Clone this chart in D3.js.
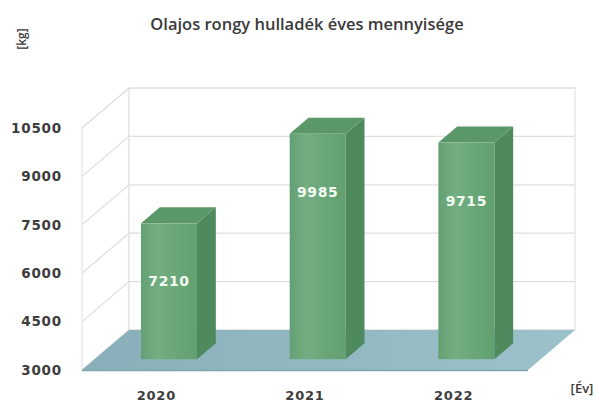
<!DOCTYPE html>
<html><head><meta charset="utf-8">
<script src="https://cdn.jsdelivr.net/npm/d3@7"></script>
<style>html,body{margin:0;padding:0;background:#fff;}svg{display:block;}</style>
</head><body>
<script>
const categories = ["2020", "2021", "2022"];
const values = [7210, 9985, 9715];
const yTicks = [3000, 4500, 6000, 7500, 9000, 10500];
const title = "Olajos rongy hulladék éves mennyisége";
const yUnit = "[kg]";
const xUnit = "[Év]";

const W = 597, H = 406;
const svg = d3.select("body").append("svg").attr("width", W).attr("height", H);
const defs = svg.append("defs");

// front plane scales
const x = d3.scaleBand().domain(categories).range([82, 528]);
const y = d3.scaleLinear().domain([3000, 10500]).range([370, 128]);
const DX = 47, DY = -40; // depth vector
const P = (px, py, t) => [px + DX * t, py + DY * t];
const T0 = 0.27, T1 = 0.67, BW = 56;

const grid = "#dedede";
const yMin = y.domain()[0], yMax = y.domain()[1];
svg.append("polygon").attr("points", [P(82, y(yMin), 0), P(82, y(yMax), 0), P(82, y(yMax), 1), P(82, y(yMin), 1)].join(" "))
  .attr("fill", "#fff").attr("stroke", grid);
svg.append("polygon").attr("points", [P(82, y(yMin), 1), P(82, y(yMax), 1), P(528, y(yMax), 1), P(528, y(yMin), 1)].join(" "))
  .attr("fill", "#fff").attr("stroke", grid);
yTicks.forEach(v => {
  const a = P(82, y(v), 0), b = P(82, y(v), 1), c = P(528, y(v), 1);
  svg.append("polyline").attr("points", [a, b, c].join(" ")).attr("fill", "none").attr("stroke", grid).attr("stroke-width", 1.2);
});
// floor
const fg = defs.append("linearGradient").attr("id", "floor").attr("x1", 0).attr("x2", 1).attr("y1", 0).attr("y2", 0);
fg.append("stop").attr("offset", 0).attr("stop-color", "#88afb9");
fg.append("stop").attr("offset", 1).attr("stop-color", "#9dc1ca");
svg.append("polygon").attr("points", [P(82, y(yMin), 0), P(82, y(yMin), 1), P(528, y(yMin), 1), P(528, y(yMin), 0)].join(" "))
  .attr("fill", "url(#floor)");
svg.append("line").attr("x1", 82).attr("x2", 528).attr("y1", y(yMin) + 0.5).attr("y2", y(yMin) + 0.5).attr("stroke", "#80a5af").attr("stroke-width", 1.5);

// y tick labels
svg.append("g").selectAll("text").data(yTicks).join("text")
  .attr("x", 62).attr("y", d => y(d)).attr("dy", "0.36em").attr("text-anchor", "end")
  .attr("font-family", "DejaVu Sans").attr("font-weight", "bold").attr("font-size", 13.5).attr("letter-spacing", 0.8)
  .attr("fill", "#3d3d3d").text(d => d);

// bars
const bg = defs.append("linearGradient").attr("id", "barf").attr("x1", 0).attr("x2", 1).attr("y1", 0).attr("y2", 0);
[["0", "#64a073"], ["0.3", "#73ae82"], ["0.6", "#6aa779"], ["1", "#62a071"]].forEach(s => bg.append("stop").attr("offset", s[0]).attr("stop-color", s[1]));
const bars = svg.append("g").selectAll("g").data(categories.map((c, i) => ({c, v: values[i]}))).join("g");
bars.each(function(d) {
  const g = d3.select(this);
  const xl = x(d.c) + x.bandwidth() / 2 - BW / 2, xr = xl + BW;
  const yb = y(yMin), yt = y(d.v);
  g.append("polygon").attr("points", [P(xr, yb, T0), P(xr, yt, T0), P(xr, yt, T1), P(xr, yb, T1)].join(" ")).attr("fill", "#4e8a5d");
  g.append("polygon").attr("points", [P(xl, yt, T0), P(xl, yt, T1), P(xr, yt, T1), P(xr, yt, T0)].join(" ")).attr("fill", "#5b9869");
  const f0 = P(xl, yt, T0), f1 = P(xr, yb, T0);
  g.append("rect").attr("x", f0[0]).attr("y", f0[1]).attr("width", f1[0] - f0[0]).attr("height", f1[1] - f0[1]).attr("fill", "url(#barf)");
  g.append("text").attr("x", (f0[0] + f1[0]) / 2).attr("y", f0[1] + 58).attr("dy", "0.36em").attr("text-anchor", "middle")
    .attr("font-family", "DejaVu Sans").attr("font-weight", "bold").attr("font-size", 14).attr("letter-spacing", 0.6)
    .attr("fill", "#f4fbf2").text(d.v);
});

// x labels
svg.append("g").selectAll("text").data(categories).join("text")
  .attr("x", d => x(d) + x.bandwidth() / 2).attr("y", 400).attr("text-anchor", "middle")
  .attr("font-family", "DejaVu Sans").attr("font-weight", "bold").attr("font-size", 13).attr("letter-spacing", 0.8)
  .attr("fill", "#3d3d3d").text(d => d);

// title & units
svg.append("text").attr("x", 307).attr("y", 30).attr("text-anchor", "middle")
  .attr("font-family", "Open Sans").attr("font-weight", 600).attr("font-size", 16.5).attr("fill", "#3a3a3a").text(title);
svg.append("text").attr("transform", "translate(26,39) rotate(-90)").attr("text-anchor", "middle")
  .attr("font-family", "Open Sans").attr("font-weight", 600).attr("font-size", 12).attr("fill", "#3a3a3a").text(yUnit);
svg.append("text").attr("x", 582).attr("y", 393).attr("text-anchor", "middle")
  .attr("font-family", "Open Sans").attr("font-weight", 600).attr("font-size", 13).attr("fill", "#3a3a3a").text(xUnit);
</script>
</body></html>
